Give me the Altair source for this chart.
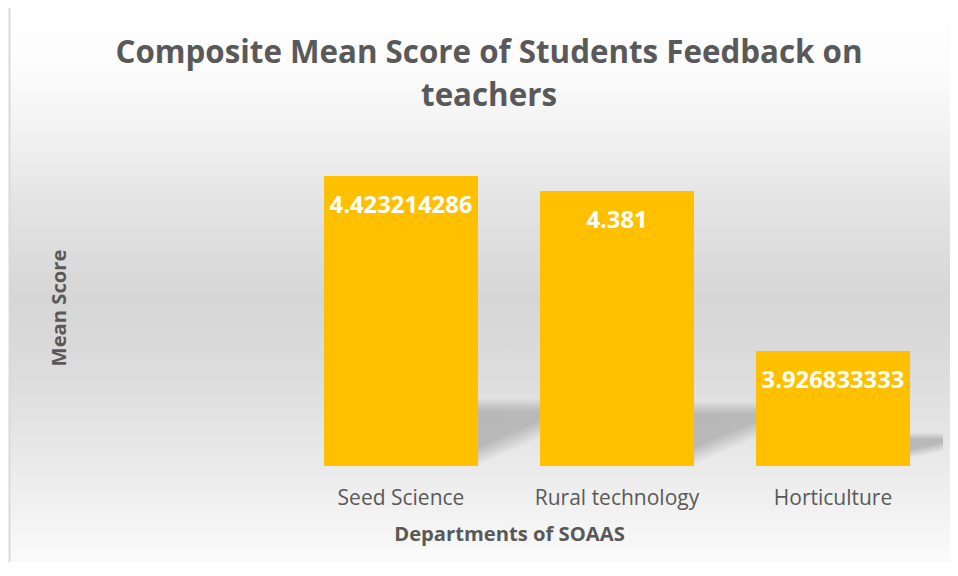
import altair as alt
import pandas as pd

departments = ["Seed Science", "Rural technology", "Horticulture"]
mean_scores = [4.423214286, 4.381, 3.926833333]
title_lines = ["Composite Mean Score of Students Feedback on", "teachers"]

df = pd.DataFrame({"Department": departments, "Score": mean_scores})
one = pd.DataFrame({"k": [0]})

W, H = 648, 317
Y_MIN, Y_MAX = 3.6, 4.5
FONT = "Open Sans"
GRAY = "#595959"

background = alt.Chart(one).mark_rect(
    color=alt.Gradient(
        gradient="linear",
        x1=0, y1=0, x2=0, y2=1,
        stops=[
            alt.GradientStop(offset=0.0, color="#ffffff"),
            alt.GradientStop(offset=0.10, color="#fcfcfc"),
            alt.GradientStop(offset=0.23, color="#f0f0f0"),
            alt.GradientStop(offset=0.32, color="#e4e4e4"),
            alt.GradientStop(offset=0.48, color="#d6d6d6"),
            alt.GradientStop(offset=0.60, color="#dcdcdc"),
            alt.GradientStop(offset=0.74, color="#e9e9e9"),
            alt.GradientStop(offset=0.90, color="#f9f9f9"),
            alt.GradientStop(offset=1.0, color="#ffffff"),
        ],
    ),
    stroke="#d9d9d9",
    strokeWidth=2,
).encode(
    x=alt.value(-283.5),
    x2=alt.value(W + 40),
    y=alt.value(-144),
    y2=alt.value(H + 150),
)

title = alt.Chart(one).mark_text(
    text=title_lines,
    font=FONT,
    fontSize=31.3,
    fontWeight="bold",
    color=GRAY,
    align="center",
    baseline="alphabetic",
    lineHeight=43,
).encode(x=alt.value(196), y=alt.value(-86))

x_enc = alt.X(
    "Department:N",
    sort=departments,
    scale=alt.Scale(paddingInner=0.287, paddingOuter=0.1435),
    axis=alt.Axis(
        title="Departments of SOAAS",
        zindex=1,
        labelAngle=0,
        labelAlign="center",
        labelFont=FONT,
        labelFontSize=21,
        labelColor=GRAY,
        labelBaseline="alphabetic",
        labelPadding=38,
        ticks=False,
        domain=False,
        grid=False,
        titleFont=FONT,
        titleFontSize=20.2,
        titleFontWeight="bold",
        titleColor=GRAY,
        titleX=216,
        titleY=74,
        titleAlign="center",
        titleBaseline="alphabetic",
    ),
)

y_enc = alt.Y(
    "Score:Q",
    scale=alt.Scale(domain=[Y_MIN, Y_MAX], zero=False, nice=False),
    axis=alt.Axis(
        title="Mean Score",
        zindex=1,
        labels=False,
        ticks=False,
        domain=False,
        grid=False,
        titleFont=FONT,
        titleFontSize=20.2,
        titleFontWeight="bold",
        titleColor=GRAY,
        titleAngle=270,
        titleX=-228,
        titleY=158.5,
        titleAlign="center",
        titleBaseline="alphabetic",
    ),
)

x_plain = alt.X("Department:N", sort=departments)

# perspective shadow cast behind each bar (decorative, derived from the bar heights)
shadow_dx = alt.expr("0.2*(scale('y', 3.6) - scale('y', datum.Score)) + 10")
shadow_base = alt.Chart(df).transform_calculate(
    shadow_top="3.6 + 0.2*(datum.Score - 3.6) + 0.0284"
)
shadow_dark = shadow_base.mark_bar(
    xOffset=shadow_dx,
    color=alt.Gradient(
        gradient="linear",
        x1=0, y1=0, x2=1, y2=1,
        stops=[
            alt.GradientStop(offset=0.0, color="rgba(183,183,183,1)"),
            alt.GradientStop(offset=0.64, color="rgba(185,185,185,1)"),
            alt.GradientStop(offset=0.78, color="rgba(185,185,185,0)"),
            alt.GradientStop(offset=1.0, color="rgba(185,185,185,0)"),
        ],
    ),
).encode(x=x_plain, y="shadow_top:Q", y2=alt.datum(Y_MIN))
shadow_fade = shadow_base.mark_bar(
    xOffset=shadow_dx,
    color=alt.Gradient(
        gradient="linear",
        x1=0, y1=0, x2=0, y2=1,
        stops=[
            alt.GradientStop(offset=0.0, color="rgba(225,225,225,1)"),
            alt.GradientStop(offset=0.2, color="rgba(225,225,225,0)"),
            alt.GradientStop(offset=1.0, color="rgba(225,225,225,0)"),
        ],
    ),
).encode(x=x_plain, y="shadow_top:Q", y2=alt.datum(Y_MIN))

bars = alt.Chart(df).mark_bar(color="#FFC000").encode(
    x=x_enc, y=y_enc, y2=alt.datum(Y_MIN)
)

labels = alt.Chart(df).mark_text(
    font=FONT,
    fontSize=23.8,
    fontWeight="bold",
    color="#ffffff",
    baseline="alphabetic",
    dy=37,
).encode(x=x_plain, y="Score:Q", text="Score:Q")

chart = alt.layer(background, title, shadow_dark, shadow_fade, bars, labels).properties(
    width=W,
    height=H,
    autosize=alt.AutoSizeParams(type="none"),
    padding={"left": 285, "top": 141, "right": 9, "bottom": 96},
).configure_view(stroke=None).configure(background="#ffffff")

chart.save("out.html", embed_options={"renderer": "svg", "actions": False})
